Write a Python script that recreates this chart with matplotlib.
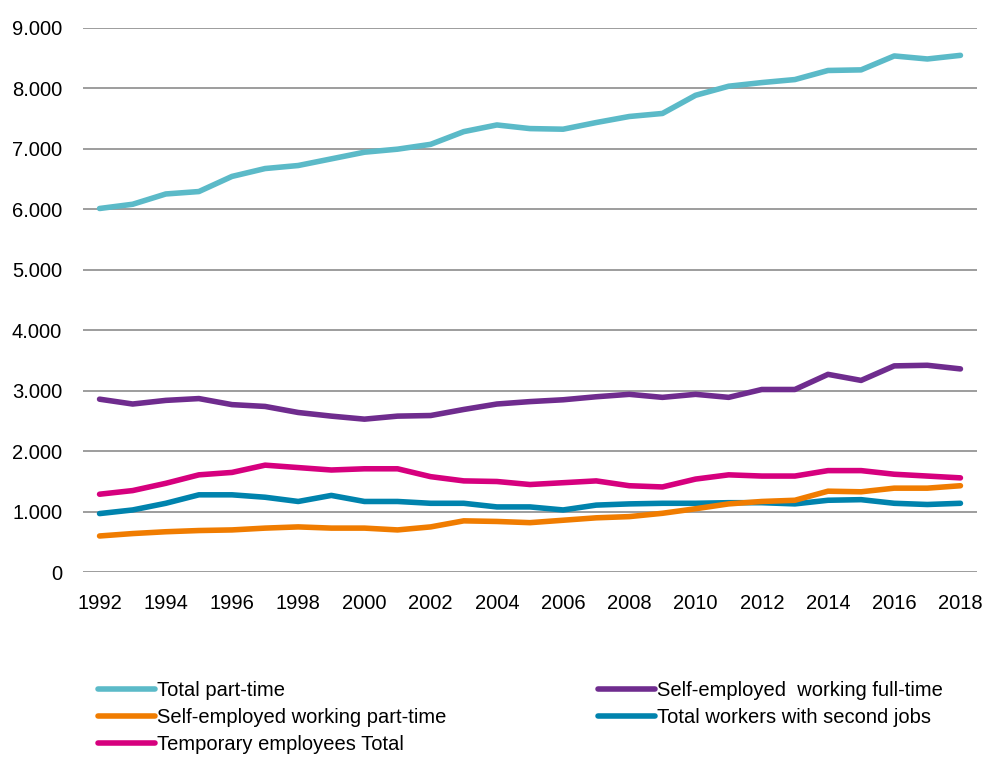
import matplotlib
matplotlib.use("Agg")
import matplotlib.pyplot as plt
from matplotlib.ticker import FuncFormatter

plt.rcParams['font.family'] = ['Liberation Sans', 'DejaVu Sans']
FS = 14.5

years = list(range(1992, 2019))

total_part_time = [6010, 6080, 6250, 6290, 6540, 6670, 6720, 6830, 6940, 6990, 7070, 7280, 7390,
                   7330, 7320, 7430, 7530, 7580, 7880, 8030, 8090, 8140, 8290, 8300, 8530, 8480, 8540]
self_emp_full = [2860, 2780, 2840, 2870, 2770, 2740, 2640, 2580, 2530, 2580, 2590, 2690, 2780,
                 2820, 2850, 2900, 2940, 2890, 2940, 2890, 3020, 3020, 3270, 3170, 3410, 3420, 3360]
self_emp_part = [600, 640, 670, 690, 700, 730, 750, 730, 730, 700, 750, 850, 840,
                 820, 860, 900, 920, 975, 1050, 1130, 1170, 1190, 1340, 1330, 1390, 1390, 1430]
second_jobs = [970, 1030, 1140, 1280, 1280, 1240, 1170, 1270, 1170, 1170, 1140, 1140, 1080,
               1080, 1030, 1110, 1130, 1140, 1140, 1150, 1150, 1130, 1190, 1200, 1140, 1120, 1140]
temporary = [1290, 1350, 1470, 1610, 1650, 1770, 1730, 1690, 1710, 1710, 1580, 1510, 1500,
             1450, 1480, 1510, 1430, 1410, 1540, 1610, 1590, 1590, 1680, 1680, 1620, 1590, 1560]

labels = ["Total part-time", "Self-employed working part-time", "Temporary employees Total",
          "Self-employed  working full-time", "Total workers with second jobs"]
series = [total_part_time, self_emp_part, temporary, self_emp_full, second_jobs]
colors = ["#5BBAC8", "#F07C00", "#D6007E", "#6F2C8E", "#0083AD"]

fig = plt.figure(figsize=(9.85, 7.58), dpi=100)
ax = fig.add_axes([83/985, 1 - 572.3/758, (977 - 83)/985, (572.3 - 27.5)/758])

draw_order = [0, 3, 2, 4, 1]
handles = [None] * 5
for i in draw_order:
    ln, = ax.plot(years, series[i], color=colors[i], lw=4, solid_capstyle='round',
                  solid_joinstyle='round', label=labels[i], zorder=3)
    handles[i] = ln

ax.set_xlim(1991.5, 2018.5)
ax.set_ylim(0, 9000)
ax.set_yticks(range(0, 9001, 1000))
ax.set_xticks(range(1992, 2019, 2))
ax.yaxis.set_major_formatter(FuncFormatter(lambda v, p: f"{int(v):,}".replace(",", ".")))
ax.grid(axis='y', color='#8c8c8c', lw=1.2, zorder=0)
ax.set_axisbelow(True)
for s in ax.spines.values():
    s.set_visible(False)
ax.tick_params(axis='both', length=0, labelsize=FS)
ax.tick_params(axis='y', pad=15)
ax.tick_params(axis='x', pad=15.5)

fs_px = FS * 100 / 72
fig.legend(handles=handles, labels=labels, ncol=2, frameon=False, loc='upper left',
           bbox_to_anchor=(98/985, 1 - 681/758), fontsize=FS, handlelength=57/fs_px,
           handletextpad=2/fs_px, columnspacing=(6.5 * 24.3 - 6) / fs_px, borderpad=0,
           borderaxespad=0, labelspacing=0.4)

fig.savefig("out.png", dpi=100)
